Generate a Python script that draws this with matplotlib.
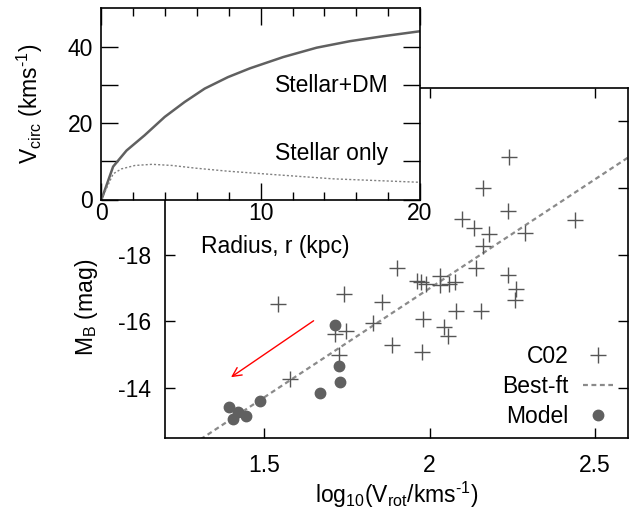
import numpy as np
import matplotlib
matplotlib.use("Agg")
import matplotlib.pyplot as plt
from matplotlib.ticker import MultipleLocator, FixedLocator

plt.rcParams['font.family'] = ['Liberation Sans', 'DejaVu Sans']
plt.rcParams['mathtext.fontset'] = 'custom'
plt.rcParams['mathtext.rm'] = 'Liberation Sans'
plt.rcParams['mathtext.it'] = 'Liberation Sans'
plt.rcParams['mathtext.default'] = 'regular'

# C02 sample: log10 rotation velocity and B-band absolute magnitude
c02_logv = [2.242, 2.163, 2.237, 2.099, 2.439, 2.136, 2.180, 2.289, 2.163,
            1.900, 2.141, 2.238, 1.963, 1.973, 1.988, 2.031, 2.033, 2.059,
            2.076, 2.261, 2.259, 1.740, 1.856, 1.540, 2.079, 2.155, 1.981,
            1.828, 1.713, 1.748, 2.045, 2.056, 1.885, 1.976, 1.725, 1.579]
c02_mag = [-20.92, -19.99, -19.32, -19.07, -19.04, -18.79, -18.62, -18.64, -18.26,
           -17.59, -17.59, -17.38, -17.21, -17.18, -17.11, -17.35, -17.09, -17.12,
           -17.19, -16.98, -16.65, -16.81, -16.58, -16.51, -16.30, -16.30, -16.06,
           -15.95, -15.63, -15.70, -15.83, -15.55, -15.28, -15.08, -14.98, -14.28]

# Model galaxies
model_logv = [1.715, 1.727, 1.730, 1.668, 1.488, 1.392, 1.419, 1.443, 1.404]
model_mag = [-15.88, -14.68, -14.18, -13.85, -13.61, -13.43, -13.30, -13.17, -13.08]

# Best-fit relation M_B = a + b * log10(V_rot)
fit_coef = [-3.95, -6.52]

# Arrow start and end (log10 V, M_B)
arrow_from = (1.649, -16.02)
arrow_to = (1.399, -14.33)

# Circular velocity curves (radius in kpc, velocity in km/s)
r_dm = [0.0, 0.73, 1.57, 2.71, 3.97, 5.22, 6.48, 7.94, 9.32, 11.41, 13.51,
        15.6, 17.69, 20.0]
v_dm = [0.0, 8.6, 12.8, 16.8, 21.6, 25.5, 29.0, 32.0, 34.3, 37.25, 39.7,
        41.4, 42.7, 44.0]
r_st = [0.0, 0.73, 1.25, 2.1, 3.18, 4.43, 5.9, 7.94, 10.87, 14.56, 20.0]
v_st = [0.0, 6.7, 8.0, 8.9, 9.2, 8.9, 8.2, 7.4, 6.5, 5.4, 4.5]

FS = 16.5
HY = '\u2010'  # hyphen used in the unit exponents
W, H = 639, 518
fig = plt.figure(figsize=(W / 100, H / 100), dpi=100)

def px_box(l, t, r, b):
    return [l / W, 1 - b / H, (r - l) / W, (b - t) / H]

# ---------------- main panel ----------------
ax = fig.add_axes(px_box(165.3, 87.7, 627.7, 438.3))
ax.set_xlim(1.2, 2.6)
ax.set_ylim(-12.5, -23.0)

ax.plot(c02_logv, c02_mag, ls='none', marker='+', ms=12, mew=1.0,
        color='#555555', label='C02', zorder=3)
xx = np.array(ax.get_xlim())
ax.plot(xx, fit_coef[0] + fit_coef[1] * xx, ls=(0, (2.2, 1.6)), lw=1.6,
        color='#8a8a8a', label='Best-ft', zorder=2)
ax.plot(model_logv, model_mag, ls='none', marker='o', ms=7.5,
        color='#606060', mec='#606060', label='Model', zorder=4)

ax.annotate('', xy=arrow_to, xytext=arrow_from,
            arrowprops=dict(arrowstyle='->', color='red', lw=1.0,
                            mutation_scale=16, shrinkA=0, shrinkB=0))

ax.xaxis.set_major_locator(FixedLocator([1.5, 2.0, 2.5]))
ax.yaxis.set_major_locator(MultipleLocator(2))
ax.xaxis.set_major_formatter(plt.FuncFormatter(lambda v, p: f'{v:g}'))
ax.yaxis.set_major_formatter(plt.FuncFormatter(lambda v, p: f'{v:g}'))
ax.tick_params(direction='in', top=True, right=True, length=7, width=1.0,
               labelsize=FS)
ax.tick_params(axis='x', pad=11)
ax.tick_params(axis='y', pad=10)
for s in ax.spines.values():
    s.set_linewidth(1.2)

leg = ax.legend(loc='lower right', bbox_to_anchor=(0.968, 0.03), frameon=False,
                markerfirst=False, fontsize=FS, handlelength=1.3,
                handletextpad=0.65, labelspacing=0.3, borderaxespad=0,
                borderpad=0)

fig.text(397 / W, 1 - 495 / H, r'log$_{10}$(V$_{rot}$/kms$^{' + HY + '1}$)',
         ha='center', va='center', fontsize=FS)
fig.text(87 / W, 1 - 307 / H, r'M$_B$ (mag)', rotation=90,
         ha='center', va='center', fontsize=FS)

# ---------------- inset panel ----------------
ins = fig.add_axes(px_box(101.5, 8.3, 420, 199.5))
ins.set_zorder(5)
ins.set_facecolor('white')
ins.set_xlim(0, 20)
ins.set_ylim(0, 50)
ins.plot(r_dm, v_dm, color='#606060', lw=1.8)
ins.plot(r_st, v_st, color='#808080', lw=1.0, ls=(0, (1.5, 1.5)))

ins.text(18.0, 29.9, 'Stellar+DM', ha='right', va='center', fontsize=FS)
ins.text(18.0, 12.0, 'Stellar only', ha='right', va='center', fontsize=FS)

ins.xaxis.set_major_locator(FixedLocator([0, 10, 20]))
ins.xaxis.set_minor_locator(MultipleLocator(2))
ins.yaxis.set_major_locator(FixedLocator([0, 10, 20, 30, 40]))
ins.yaxis.set_major_formatter(plt.FuncFormatter(
    lambda v, p: f'{v:g}' if v % 20 == 0 else ''))
ins.tick_params(which='major', direction='in', top=True, right=True,
                length=12, width=1.0, labelsize=FS)
ins.tick_params(which='minor', direction='in', top=True, right=True,
                length=6, width=1.0)
ins.tick_params(axis='x', pad=2)
ins.tick_params(axis='y', pad=6)
for s in ins.spines.values():
    s.set_linewidth(1.2)

fig.text(275 / W, 1 - 247 / H, 'Radius, r (kpc)', ha='center', va='center',
         fontsize=FS)
fig.text(30 / W, 1 - 104 / H, r'V$_{circ}$ (kms$^{' + HY + '1}$)', rotation=90,
         ha='center', va='center', fontsize=FS)

fig.savefig('out.png', dpi=100)
